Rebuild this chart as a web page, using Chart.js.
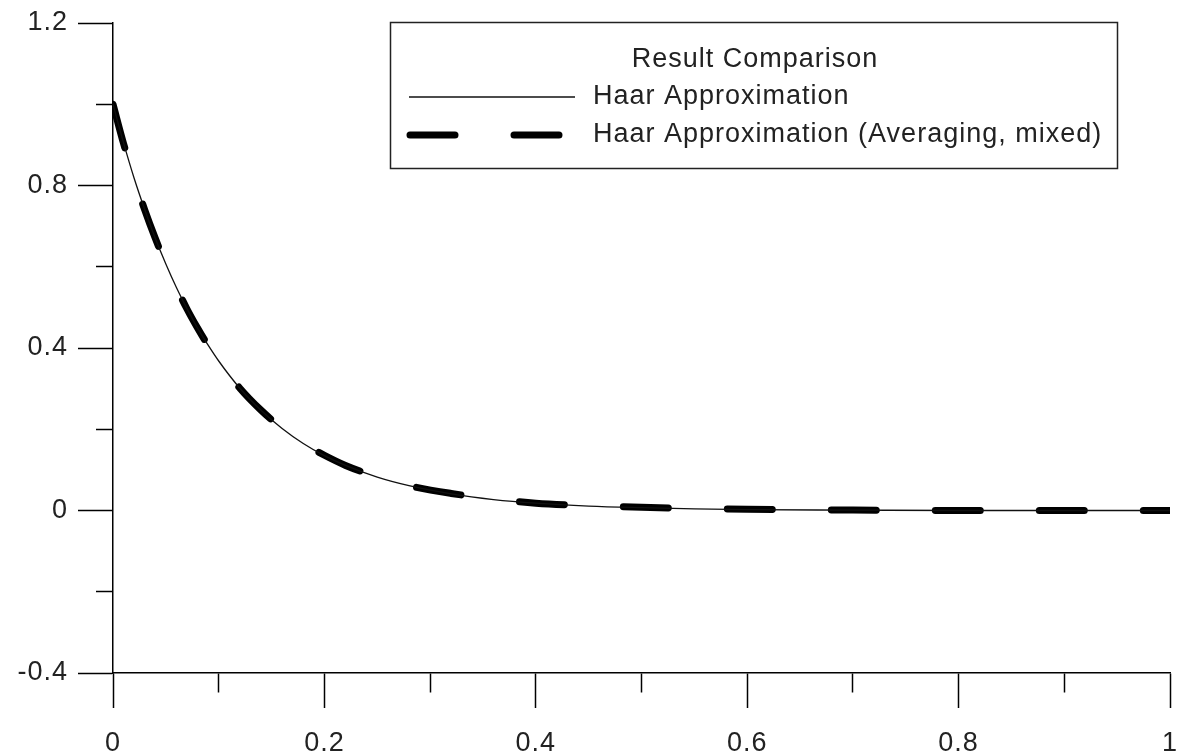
<!DOCTYPE html>
<html>
<head>
<meta charset="utf-8">
<script src="https://cdn.jsdelivr.net/npm/chart.js@4.4.1/dist/chart.umd.min.js"></script>
<style>
  html, body { margin: 0; padding: 0; background: #fff; }
  #wrap { width: 1180px; height: 756px; }
</style>
</head>
<body>
<div id="wrap"><canvas id="resultChart" width="1180" height="756"></canvas></div>
<script>
// Values
const xValues = [0, 0.01, 0.02, 0.03, 0.04, 0.05, 0.06, 0.07, 0.08, 0.09, 0.10, 0.12, 0.14, 0.16, 0.18,
  0.20, 0.22, 0.25, 0.28, 0.32, 0.36, 0.40, 0.45, 0.50, 0.55, 0.60, 0.70, 0.80, 0.90, 1.00];
const haarValues = [1.000, 0.905, 0.818, 0.741, 0.670, 0.607, 0.549, 0.497, 0.449, 0.407, 0.368, 0.301, 0.247, 0.202, 0.165,
  0.135, 0.111, 0.082, 0.061, 0.041, 0.027, 0.018, 0.011, 0.007, 0.004, 0.002, 0.001, 0.000, 0.000, 0.000];
const averagedValues = [1.000, 0.903, 0.818, 0.740, 0.670, 0.606, 0.549, 0.496, 0.449, 0.406, 0.368, 0.301, 0.247, 0.202, 0.165,
  0.136, 0.111, 0.083, 0.061, 0.042, 0.028, 0.018, 0.012, 0.008, 0.005, 0.003, 0.001, 0.000, 0.000, 0.000];

const legendTitle = 'Result Comparison';
const seriesLabels = ['Haar Approximation', 'Haar Approximation (Averaging, mixed)'];

const xRange = { min: 0, max: 1, step: 0.1 };
const yRange = { min: -0.4, max: 1.2, step: 0.2 };

const textColor = '#222';
const fontSpec = { family: "'Liberation Sans', Arial, sans-serif", size: 27 };

const toPoints = (ys) => xValues.map((x, i) => ({ x, y: ys[i] }));
const fmt = (v) => String(Math.round(v * 10) / 10);
const xMajor = (v) => Math.round(v * 10) % 2 === 0;
const yMajor = (v) => Math.round(v * 10) % 4 === 0;

// Legend box drawn on top of the plot
const legendBox = {
  id: 'legendBox',
  beforeDraw(chart) {
    chart.ctx.letterSpacing = '1px';
  },
  afterDraw(chart) {
    const ctx = chart.ctx;
    const sets = chart.data.datasets;
    const box = { left: 390, top: 22, right: 1117, bottom: 168 };
    ctx.save();
    ctx.letterSpacing = '1px';
    ctx.fillStyle = '#fff';
    ctx.fillRect(box.left, box.top, box.right - box.left, box.bottom - box.top);
    ctx.strokeStyle = '#222';
    ctx.lineWidth = 1.5;
    ctx.strokeRect(box.left + 0.5, box.top + 0.5, box.right - box.left, box.bottom - box.top);

    ctx.font = `${fontSpec.size}px ${fontSpec.family}`;
    ctx.fillStyle = textColor;
    ctx.textBaseline = 'middle';
    ctx.textAlign = 'center';
    ctx.fillText(legendTitle, 755, 60);

    const rows = [
      { y: 97, x1: 409, x2: 575 },
      { y: 135, x1: 410, x2: 559 }
    ];
    sets.forEach((ds, i) => {
      const r = rows[i];
      ctx.save();
      ctx.strokeStyle = ds.borderColor;
      ctx.lineWidth = ds.borderWidth;
      ctx.lineCap = ds.borderCapStyle || 'butt';
      ctx.setLineDash(ds.borderDash || []);
      ctx.beginPath();
      ctx.moveTo(r.x1, r.y);
      ctx.lineTo(r.x2, r.y);
      ctx.stroke();
      ctx.restore();
      ctx.textAlign = 'left';
      ctx.fillText(ds.label, 593, r.y);
    });
    ctx.restore();
  }
};

new Chart(document.getElementById('resultChart'), {
  type: 'scatter',
  data: {
    datasets: [
      {
        label: seriesLabels[0],
        data: toPoints(haarValues),
        showLine: true,
        borderColor: '#111',
        borderWidth: 1.3,
        pointRadius: 0,
        cubicInterpolationMode: 'monotone'
      },
      {
        label: seriesLabels[1],
        data: toPoints(averagedValues),
        showLine: true,
        borderColor: '#000',
        borderWidth: 7,
        borderDash: [45, 59],
        borderCapStyle: 'round',
        pointRadius: 0,
        cubicInterpolationMode: 'monotone'
      }
    ]
  },
  options: {
    responsive: false,
    animation: false,
    layout: { padding: { top: 23, right: 10, left: 0, bottom: 0 } },
    plugins: { legend: { display: false }, tooltip: { enabled: false } },
    scales: {
      x: {
        type: 'linear',
        min: xRange.min,
        max: xRange.max,
        afterFit: (s) => { s.height = 83; s.paddingLeft = 0; s.paddingRight = 0; },
        border: { display: true, color: '#000', width: 1.5 },
        grid: {
          drawOnChartArea: false,
          drawTicks: true,
          tickLength: 35,
          tickWidth: 1.5,
          tickColor: '#000',
          tickBorderDash: (c) => (c.tick && xMajor(c.tick.value)) ? [] : [19, 40]
        },
        ticks: {
          stepSize: xRange.step,
          autoSkip: false,
          maxRotation: 0,
          padding: 19,
          color: textColor,
          font: fontSpec,
          callback: (v) => xMajor(v) ? fmt(v) : ''
        }
      },
      y: {
        min: yRange.min,
        max: yRange.max,
        afterFit: (s) => { s.width = 113; s.paddingTop = 0; s.paddingBottom = 0; },
        border: { display: true, color: '#000', width: 1.5 },
        grid: {
          drawOnChartArea: false,
          drawTicks: true,
          tickLength: 35,
          tickWidth: 1.5,
          tickColor: '#000',
          tickBorderDash: (c) => (c.tick && yMajor(c.tick.value)) ? [] : [17, 18],
          tickBorderDashOffset: (c) => (c.tick && yMajor(c.tick.value)) ? 0 : 17
        },
        ticks: {
          stepSize: yRange.step,
          autoSkip: false,
          padding: 10,
          color: textColor,
          font: fontSpec,
          callback: (v) => yMajor(v) ? fmt(v) : ''
        }
      }
    }
  },
  plugins: [legendBox]
});
</script>
</body>
</html>
